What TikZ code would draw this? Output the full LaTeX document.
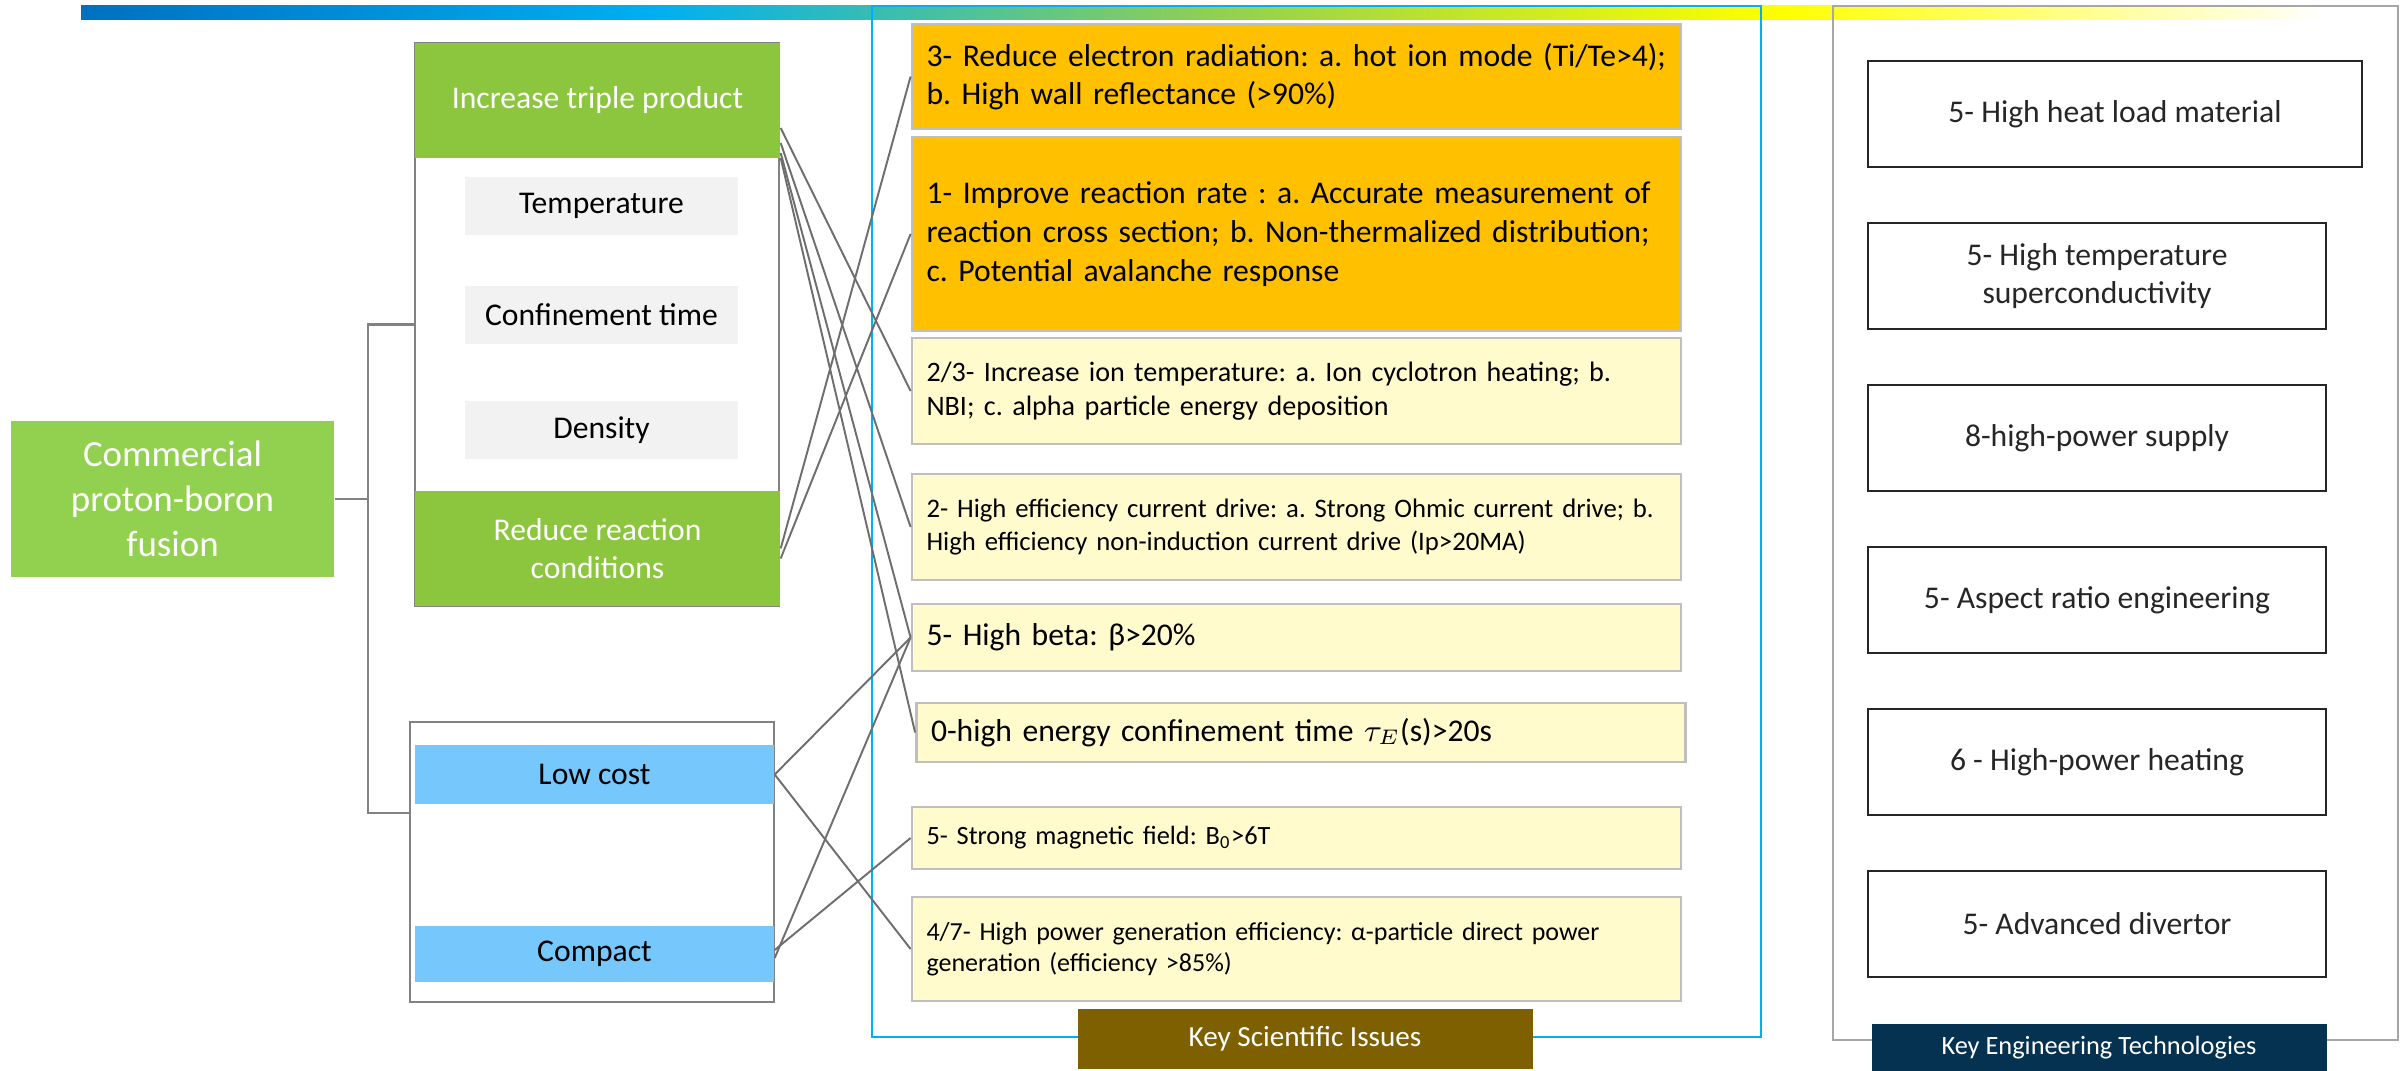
\documentclass[tikz,border=0pt]{standalone}
\usepackage{fontspec}
\setmainfont{Carlito}
\usepackage{xcolor}
\usepackage{tikz}
\usetikzlibrary{calc}
\definecolor{barBlue}{HTML}{0070C0}
\definecolor{barCyan}{HTML}{00B0F0}
\definecolor{barGreen}{HTML}{92D050}
\definecolor{barYellow}{HTML}{FFFF00}
\definecolor{fusionGreen}{HTML}{92D050}
\definecolor{goalGreen}{HTML}{8CC63F}
\definecolor{paramGrey}{HTML}{F2F2F2}
\definecolor{costBlue}{HTML}{75C7FC}
\definecolor{sciGold}{HTML}{FFC000}
\definecolor{sciPale}{HTML}{FFFBCC}
\definecolor{cardEdge}{HTML}{BFBFBF}
\definecolor{groupEdge}{HTML}{828282}
\definecolor{linkGrey}{HTML}{6E6E6E}
\definecolor{frameBlue}{HTML}{00B0F0}
\definecolor{frameGrey}{HTML}{A6A6A6}
\definecolor{engEdge}{HTML}{262626}
\definecolor{textColor}{HTML}{262626}
\definecolor{labelBrown}{HTML}{7F6000}
\definecolor{labelNavy}{HTML}{043250}

\begin{document}
\frenchspacing
\begin{tikzpicture}[x=0.1mm, y=-0.1mm,
        groupBox/.style={draw=groupEdge, line width=0.7pt, minimum width=36.4mm, inner sep=0pt},
        bandBox/.style={minimum width=36.5mm, minimum height=11.5mm, inner sep=0pt, align=center, font=\fontsize{9}{11}\selectfont},
        paramBox/.style={fill=paramGrey, minimum width=27.3mm, minimum height=5.8mm, inner sep=0pt, font=\fontsize{9}{11}\selectfont},
        sciCard/.style={draw=cardEdge, line width=0.8pt, minimum width=76.9mm, text width=74mm, inner xsep=1.45mm, inner ysep=0pt, align=left, font=\fontsize{9}{11}\selectfont},
        engCard/.style={draw=engEdge, line width=0.7pt, minimum width=45.8mm, minimum height=10.6mm, inner sep=0pt, align=center, text=textColor, font=\fontsize{9}{11}\selectfont},
        tagLabel/.style={text=white, inner sep=0pt, minimum width=45.5mm},
        frameBox/.style={line width=0.6pt, inner sep=0pt},
        linkLine/.style={draw=linkGrey, line width=0.55pt},
        treeLine/.style={draw=groupEdge, line width=0.8pt}
    ]
        \fill[white] (0,0) rectangle (2407,1071);
        \useasboundingbox (0,0) rectangle (2407,1071);

        % Top colour bar
        \shade[left color=barBlue, right color=barCyan] (81,6) rectangle (661,20);
        \shade[left color=barCyan, right color=barGreen] (660,6) rectangle (1221,20);
        \shade[left color=barGreen, right color=barYellow] (1220,6) rectangle (1781,20);
        \shade[left color=barYellow, right color=white] (1780,6) rectangle (2326,20);

        % Frames
        \node[frameBox, draw=frameBlue, minimum width=88.9mm, minimum height=103.1mm, at={(1316.5,521.5)}] (sciFrame) {};
        \node[frameBox, draw=frameGrey, minimum width=56.5mm, minimum height=103.4mm, at={(2115.5,523)}] (engFrame) {};

        % Goal and requirements
        \node[fill=fusionGreen, text=white, minimum width=32.3mm, minimum height=15.6mm, inner sep=0pt, align=center, font=\fontsize{10.5}{12.8}\selectfont, at={(172.5,499)}] (comm) {Commercial\\proton-boron\\fusion};

        \node[groupBox, minimum height=56.3mm, at={(597,324.5)}] (grpA) {};
        \node[bandBox, fill=goalGreen, text=white, at={(597.5,100.5)}] (itp) {Increase triple product};
        \node[paramBox, at={(601.5,206)}] (temp) {Temperature};
        \node[paramBox, at={(601.5,315)}] (conf) {Confinement time};
        \node[paramBox, at={(601.5,430)}] (dens) {Density};
        \node[bandBox, fill=goalGreen, text=white, at={(597.5,548.5)}] (rrc) {Reduce reaction\\conditions};

        \node[groupBox, minimum height=28mm, at={(592,862)}] (grpB) {};
        \node[bandBox, fill=costBlue, minimum width=35.9mm, minimum height=5.9mm, at={(594.5,774.5)}] (lc) {Low cost};
        \node[bandBox, fill=costBlue, minimum width=35.9mm, minimum height=5.6mm, at={(594.5,954)}] (cp) {Compact};

        \coordinate (fork) at (368,499);
        \draw[treeLine] (comm.east) -- (fork);
        \draw[treeLine] (grpA.west) -| (fork) |- ([yshift=4.9mm]grpB.west);

        % Key scientific issues
        \node[sciCard, fill=sciGold, minimum height=10.5mm, at={(1296.5,76.5)}] (s3) {3- Reduce electron radiation: a. hot ion mode (Ti/Te>4);\\b. High wall reflectance (>90\%)};
        \node[sciCard, fill=sciGold, minimum height=19.4mm, at={(1296.5,234)}] (s1) {1- Improve reaction rate : a. Accurate measurement of\\reaction cross section; b. Non-thermalized distribution;\\c. Potential avalanche response};
        \node[sciCard, fill=sciPale, minimum height=10.6mm, font=\fontsize{8}{9.8}\selectfont, at={(1296.5,391)}] (s23) {2/3- Increase ion temperature: a. Ion cyclotron heating; b.\\NBI; c. alpha particle energy deposition};
        \node[sciCard, fill=sciPale, minimum height=10.6mm, font=\fontsize{7.6}{9.3}\selectfont, at={(1296.5,527)}] (s2) {2- High efficiency current drive: a. Strong Ohmic current drive; b.\\High efficiency non-induction current drive (Ip>20MA)};
        \node[sciCard, fill=sciPale, minimum height=6.7mm, at={(1296.5,637.5)}] (sbeta) {5- High beta: β>20\%};
        \node[sciCard, fill=sciPale, minimum height=5.9mm, at={(1301,732.5)}] (stau) {0-high energy confinement time $\tau_E$(s)>20s};
        \node[sciCard, fill=sciPale, minimum height=6.2mm, font=\fontsize{7.5}{9}\selectfont, at={(1296.5,838)}] (sfield) {5- Strong magnetic field: B\textsubscript{0}>6T};
        \node[sciCard, fill=sciPale, minimum height=10.4mm, font=\fontsize{7.4}{8.9}\selectfont, at={(1296.5,949)}] (spow) {4/7- High power generation efficiency: α-particle direct power\\generation (efficiency >85\%)};

        \node[tagLabel, fill=labelBrown, minimum height=6mm, font=\fontsize{8.3}{10}\selectfont, at={(1305,1039)}] (keySci) {Key Scientific Issues};

        % Key engineering technologies
        \node[engCard, minimum width=49.4mm, at={(2115,114)}] (e1) {5- High heat load material};
        \node[engCard, at={(2097,276)}] (e2) {5- High temperature\\superconductivity};
        \node[engCard, at={(2097,438)}] (e3) {8-high-power supply};
        \node[engCard, at={(2097,600)}] (e4) {5- Aspect ratio engineering};
        \node[engCard, at={(2097,762)}] (e5) {6 - High-power heating};
        \node[engCard, at={(2097,924)}] (e6) {5- Advanced divertor};

        \node[tagLabel, fill=labelNavy, minimum height=4.7mm, font=\fontsize{7.5}{9}\selectfont, at={(2099,1047.5)}] (keyEng) {Key Engineering Technologies};

        % Links
        \draw[linkLine] ([yshift=-2.75mm]itp.east) -- (s23.west);
        \draw[linkLine] ([yshift=-4.25mm]itp.east) -- (s2.west);
        \draw[linkLine] ([yshift=-5.25mm]itp.east) -- (sbeta.west);
        \draw[linkLine] ([yshift=-5.75mm]itp.east) -- (stau.west);
        \draw[linkLine] (rrc.east) -- (s3.west);
        \draw[linkLine] ([yshift=-1mm]rrc.east) -- (s1.west);
        \draw[linkLine] (lc.east) -- (sbeta.west);
        \draw[linkLine] (lc.east) -- (spow.west);
        \draw[linkLine] ([yshift=-0.4mm]cp.east) -- (sbeta.west);
        \draw[linkLine] ([yshift=0.4mm]cp.east) -- (sfield.west);
    \end{tikzpicture}
\end{document}
